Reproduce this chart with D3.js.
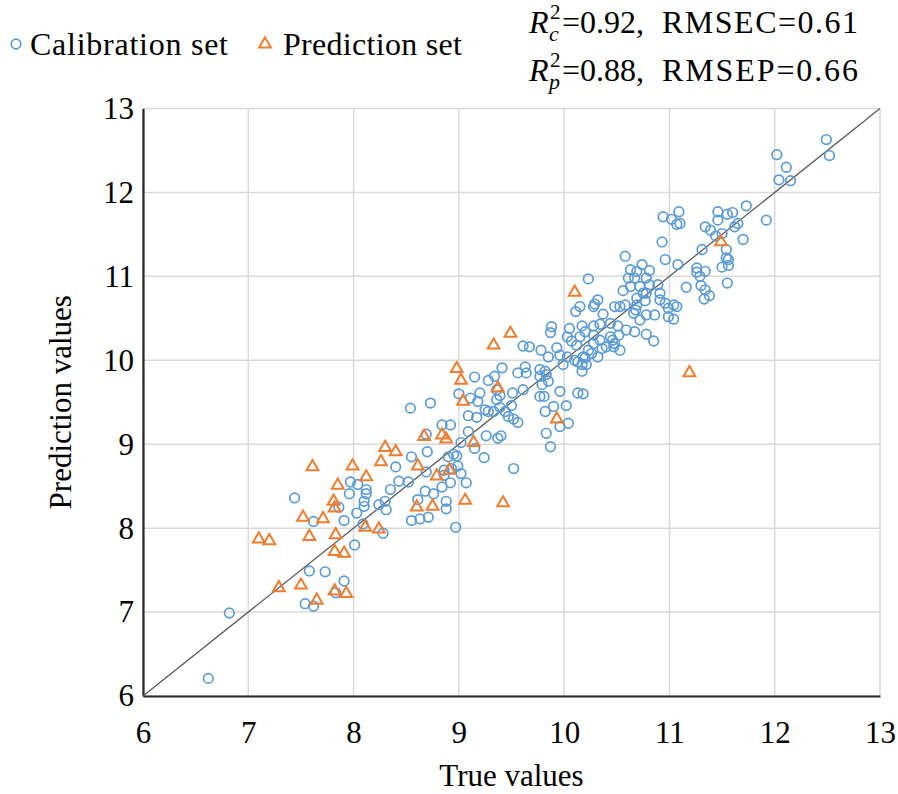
<!DOCTYPE html>
<html lang="en">
<head>
<meta charset="UTF-8">
<title>Calibration and prediction scatter</title>
<script src="https://cdnjs.cloudflare.com/ajax/libs/d3/7.8.5/d3.min.js"></script>
<style>
  body { margin: 0; background: #fff; }
  svg text { font-family: "Liberation Serif", "Times New Roman", "DejaVu Serif", serif; }
</style>
</head>
<body>
<svg width="898" height="794"></svg>
<script>
// calibration set (true, predicted)
var calTrue = [6.62,6.82,7.44,7.62,7.86,7.91,7.97,8.04,7.96,8.12,8.12,8.10,8.10,8.03,8.24,8.31,8.30,8.35,8.40,8.43,
  8.09,8.28,8.01,7.58,7.73,7.91,7.54,7.62,7.83,8.52,8.55,8.70,8.69,8.68,8.76,8.61,8.63,8.55,8.71,8.84,
  8.92,9.09,8.93,8.86,8.90,8.95,8.98,8.99,9.02,9.07,8.92,8.84,8.86,8.88,8.88,8.97,8.73,8.54,8.69,
  9.02,9.15,9.26,9.37,9.40,9.24,9.52,9.09,9.17,9.25,9.28,9.33,9.39,9.44,9.50,9.47,9.52,9.56,9.00,9.11,
  9.18,9.20,9.36,9.39,9.36,9.51,9.61,9.15,9.28,9.34,9.41,9.56,9.63,9.77,9.82,9.83,9.77,9.85,9.79,9.77,
  9.81,9.96,9.82,9.90,10.02,9.96,10.04,9.83,9.87,10.13,10.18,9.61,9.67,9.78,9.85,9.93,9.96,10.03,10.03,10.07,
  10.12,9.87,10.13,10.17,10.15,10.20,10.28,10.34,10.44,10.52,10.53,10.47,10.36,10.32,10.26,10.18,10.10,9.64,
  10.58,10.96,11.08,10.23,10.63,10.69,10.74,10.81,10.67,10.61,10.78,10.81,10.89,10.72,10.63,10.56,10.75,10.78,
  10.69,10.77,10.91,10.91,10.96,11.04,10.99,11.07,10.99,11.04,10.69,10.68,10.66,10.78,10.86,10.72,10.32,10.29,
  10.28,10.48,10.53,10.58,10.15,10.11,10.37,10.28,10.34,10.44,10.51,10.59,10.67,10.78,10.85,9.88,10.05,10.17,
  10.28,10.46,10.40,10.48,10.23,10.20,10.21,10.17,9.99,
  11.73,11.92,11.46,11.55,11.60,11.65,11.62,11.46,11.34,11.39,11.44,11.50,11.70,11.54,11.54,11.56,11.50,11.56,
  11.55,11.31,11.26,11.26,11.34,11.29,11.30,11.34,11.38,11.33,11.16,10.93,11.09,10.94,11.02,11.07,11.10,
  12.49,12.52,12.02,12.11,12.04,12.15];
var calPred = [6.21,6.99,8.36,8.08,8.25,8.09,8.55,8.52,8.41,8.41,8.46,8.32,8.26,8.18,8.28,8.22,8.32,8.46,8.73,8.56,
  8.05,7.94,7.80,7.49,7.48,7.37,7.10,7.07,7.23,8.55,8.85,8.91,8.67,8.44,8.41,8.34,8.11,8.09,8.13,9.23,
  9.23,9.15,8.71,8.69,8.85,8.88,8.86,8.74,8.65,8.54,8.54,8.49,8.63,8.32,8.23,8.01,9.49,9.43,9.12,
  9.02,8.95,9.10,9.07,9.10,8.84,8.71,9.34,9.32,9.41,9.39,9.39,9.44,9.39,9.46,9.33,9.30,9.26,9.60,9.55,
  9.51,9.61,9.65,9.58,9.53,9.61,9.65,9.80,9.76,9.81,9.91,9.85,9.92,9.89,9.87,9.83,9.81,9.75,9.71,9.57,
  9.57,9.63,9.39,9.45,9.46,9.21,9.25,9.13,8.97,9.61,9.60,10.17,10.16,10.12,10.04,10.15,10.06,10.04,10.28,10.23,
  10.18,10.33,9.98,9.87,10.28,10.34,10.30,10.24,10.28,10.30,10.12,10.16,10.14,10.04,10.08,10.04,10.00,9.85,
  11.24,11.20,11.14,10.97,11.08,11.06,11.14,11.07,10.98,10.98,10.98,10.90,10.90,10.88,10.88,10.83,10.80,10.80,
  10.74,10.71,10.80,10.72,10.68,10.66,10.62,10.64,10.52,10.49,10.66,10.60,10.56,10.54,10.54,10.48,10.72,10.67,
  10.64,10.64,10.64,10.66,10.64,10.58,10.55,10.41,10.43,10.44,10.41,10.36,10.34,10.31,10.23,10.40,10.38,10.41,
  10.20,10.24,10.16,10.20,10.12,10.03,9.95,9.95,9.95,
  11.84,11.67,11.77,11.74,11.76,11.63,11.59,11.67,11.59,11.55,11.48,11.51,11.44,11.32,11.22,11.20,11.11,11.13,
  10.92,11.32,11.10,11.05,11.06,11.00,10.89,10.84,10.77,10.73,10.87,11.41,11.77,11.71,11.68,11.62,11.63,
  12.63,12.44,12.45,12.30,12.15,12.14];

// prediction set (true, predicted)
var predTrue = [7.10,7.20,7.29,7.50,7.52,7.58,7.61,7.65,7.71,7.81,7.82,7.83,7.82,7.85,7.82,7.91,7.93,7.99,8.12,8.11,
  8.24,8.26,8.30,8.40,8.61,8.60,8.67,8.75,8.79,8.84,8.88,8.91,8.98,9.02,9.04,9.06,9.14,9.33,9.37,9.42,
  9.49,9.93,10.10,11.19,11.49];
var predPred = [7.87,7.85,7.29,7.32,8.13,7.90,8.73,7.14,8.11,8.32,8.24,7.92,7.72,8.51,7.25,7.70,7.22,8.74,8.61,8.01,
  7.99,8.79,8.96,8.91,8.74,8.25,9.09,8.26,8.62,9.11,9.06,8.69,9.90,9.76,9.51,8.33,9.02,10.18,9.67,8.30,
  10.32,9.30,10.81,9.85,11.41];

var ticks = [6, 7, 8, 9, 10, 11, 12, 13];
var blue = "#5b9bd5", orange = "#ed7d31";
var serif = "'Liberation Serif', 'Times New Roman', 'DejaVu Serif', serif";
var fs = 31;

var svg = d3.select("svg");
var m = {left: 143, top: 108.5, right: 18, bottom: 98};
var w = 898 - m.left - m.right, h = 794 - m.top - m.bottom;

var x = d3.scaleLinear().domain([6, 13]).range([0, w]);
var y = d3.scaleLinear().domain([6, 13]).range([h, 0]);

var g = svg.append("g").attr("transform", "translate(" + m.left + "," + m.top + ")");

// grid
g.append("g").selectAll("line").data(ticks).enter().append("line")
  .attr("x1", function(d){ return x(d); }).attr("x2", function(d){ return x(d); })
  .attr("y1", 0).attr("y2", h)
  .attr("stroke", "#d9d9d9").attr("stroke-width", 1.5);
g.append("g").selectAll("line").data(ticks).enter().append("line")
  .attr("y1", function(d){ return y(d); }).attr("y2", function(d){ return y(d); })
  .attr("x1", 0).attr("x2", w)
  .attr("stroke", "#d9d9d9").attr("stroke-width", 1.5);

// axes: only the line and the labels
var xAxis = g.append("g").attr("transform", "translate(0," + h + ")")
  .call(d3.axisBottom(x).tickValues(ticks).tickFormat(d3.format("d")).tickSize(0).tickPadding(25));
var yAxis = g.append("g")
  .call(d3.axisLeft(y).tickValues(ticks).tickFormat(d3.format("d")).tickSize(0).tickPadding(9));
[xAxis, yAxis].forEach(function(a){
  a.attr("font-family", serif);
  a.select(".domain").attr("stroke", "#262626").attr("stroke-width", 2.2);
  a.selectAll("text").attr("font-family", serif).attr("font-size", fs).attr("fill", "#000");
});

// 1:1 line
g.append("line")
  .attr("x1", x(6)).attr("y1", y(6)).attr("x2", x(13)).attr("y2", y(13))
  .attr("stroke", "#595959").attr("stroke-width", 1.3);

var cal = calTrue.map(function(d, i){ return {t: d, p: calPred[i]}; });
var pre = predTrue.map(function(d, i){ return {t: d, p: predPred[i]}; });

g.selectAll(".cal").data(cal).enter().append("circle")
  .attr("class", "cal")
  .attr("cx", function(d){ return x(d.t); })
  .attr("cy", function(d){ return y(d.p); })
  .attr("r", 4.8)
  .attr("fill", "none").attr("stroke", blue).attr("stroke-width", 1.7);

var tri = d3.symbol().type(d3.symbolTriangle).size(60);
g.selectAll(".pre").data(pre).enter().append("path")
  .attr("class", "pre")
  .attr("d", tri)
  .attr("transform", function(d){ return "translate(" + x(d.t) + "," + y(d.p) + ")"; })
  .attr("fill", "none").attr("stroke", orange).attr("stroke-width", 2);

// axis titles
svg.append("text").attr("x", m.left + w / 2).attr("y", 786).attr("font-family", serif)
  .attr("text-anchor", "middle").attr("font-size", fs).text("True values");
svg.append("text").attr("transform", "translate(71," + (m.top + h / 2) + ") rotate(-90)")
  .attr("font-family", serif)
  .attr("text-anchor", "middle").attr("font-size", fs).text("Prediction values");

// legend
svg.append("circle").attr("cx", 16).attr("cy", 44).attr("r", 4.8)
  .attr("fill", "none").attr("stroke", blue).attr("stroke-width", 1.7);
svg.append("text").attr("x", 30).attr("y", 55).attr("font-family", serif)
  .attr("font-size", 32).attr("textLength", 198).text("Calibration set");
svg.append("path").attr("d", tri).attr("transform", "translate(265,44)")
  .attr("fill", "none").attr("stroke", orange).attr("stroke-width", 2);
svg.append("text").attr("x", 283).attr("y", 55).attr("font-family", serif)
  .attr("font-size", 32).attr("textLength", 179).text("Prediction set");

// statistics
var stats = [
  {sub: "c", r2: "=0.92,", rm: "RMSEC=0.61", y: 33},
  {sub: "p", r2: "=0.88,", rm: "RMSEP=0.66", y: 81}
];
stats.forEach(function(s){
  var t = svg.append("text").attr("y", s.y).attr("font-size", 32).attr("font-family", serif);
  t.append("tspan").attr("x", 529).attr("font-style", "italic").text("R");
  t.append("tspan").attr("x", 550).attr("dy", -14).attr("font-size", 21).text("2");
  t.append("tspan").attr("x", 549).attr("dy", 22).attr("font-size", 22).attr("font-style", "italic").text(s.sub);
  t.append("tspan").attr("x", 562).attr("dy", -8).text(s.r2);
  t.append("tspan").attr("x", 662).attr("textLength", 196).text(s.rm);
});
</script>
</body>
</html>
